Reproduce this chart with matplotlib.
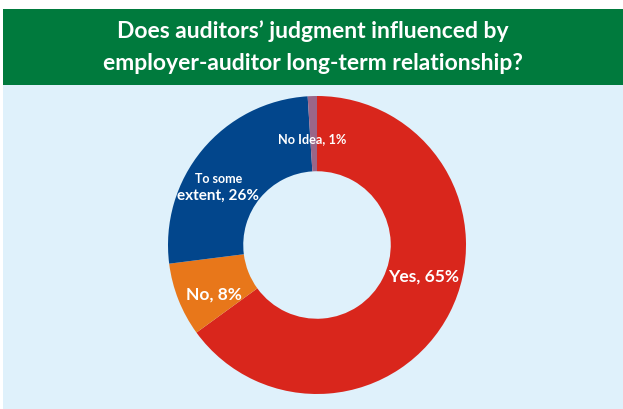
import matplotlib as mpl
mpl.use('Agg')
import matplotlib.pyplot as plt
from matplotlib.patches import Rectangle

plt.rcParams['font.family'] = ['Lato', 'DejaVu Sans']

title_lines = ["Does auditors\u2019 judgment influenced by",
               "employer-auditor long-term relationship?"]
answers = ["Yes", "No", "To some extent", "No Idea"]
shares = [65, 8, 26, 1]
colors = ['#D9261C', '#E8771A', '#02468C', '#9A6688']

W, H = 623, 410
fig = plt.figure(figsize=(W / 100, H / 100), dpi=100)
fig.patch.set_facecolor('white')

# header band and light-blue panel
fig.patches.append(Rectangle((3 / W, 0), 1, (H - 86) / H, transform=fig.transFigure,
                             facecolor='#DFF1FB', edgecolor='none', zorder=-2))
fig.patches.append(Rectangle((3 / W, (H - 86) / H), 1, 76 / H, transform=fig.transFigure,
                             facecolor='#007A3D', edgecolor='none', zorder=-2))
for i, line in enumerate(title_lines):
    fig.text(313 / W, 1 - (31 + 33 * i) / H, line, ha='center', va='center',
             color='white', fontsize=16.5, fontweight='bold')

# donut
cx, cy, r = 317, 246, 149
ax = fig.add_axes([(cx - r) / W, (H - cy - r) / H, 2 * r / W, 2 * r / H])
ax.set_zorder(1)
ax.pie(shares, colors=colors, startangle=90, counterclock=False, radius=1,
       wedgeprops=dict(width=0.505, linewidth=0))
ax.set_xlim(-1, 1)
ax.set_ylim(-1, 1)
ax.set_aspect('equal')
ax.axis('off')

lab = dict(ha='center', va='center', color='white', fontweight='bold')
ax.text(0.713, -0.207, f"{answers[0]}, {shares[0]}%", fontsize=12.5, **lab)
ax.text(-0.693, -0.327, f"{answers[1]}, {shares[1]}%", fontsize=12.5, **lab)
ax.text(-0.66, 0.45, "To some", fontsize=9, **lab)
ax.text(-0.667, 0.34, f"extent, {shares[2]}%", fontsize=11, **lab)
ax.text(-0.03, 0.72, f"{answers[3]}, {shares[3]}%", fontsize=9.2, **lab)

fig.savefig('out.png', dpi=100)
